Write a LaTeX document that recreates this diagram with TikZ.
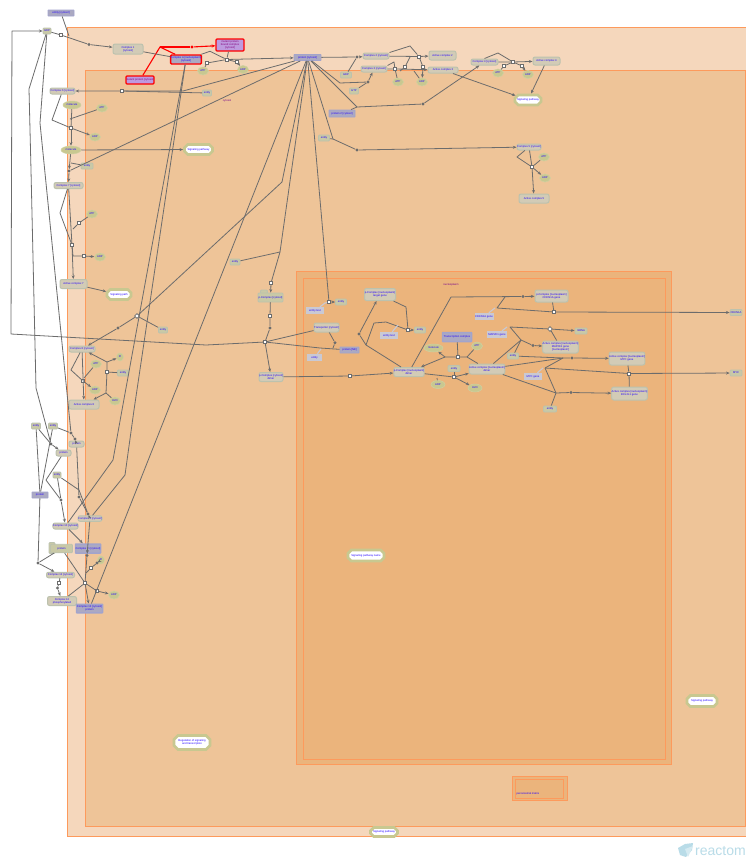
\documentclass[tikz,border=0pt]{standalone}
\usepackage{fontspec}
\setmainfont{Liberation Sans}
\usetikzlibrary{arrows.meta,shapes.misc,shapes.geometric}
\definecolor{cmpl}{HTML}{FD9A5C}
\definecolor{cmpa}{HTML}{F5D7BC}
\definecolor{cmpb}{HTML}{EEC498}
\definecolor{cmpc}{HTML}{EBB47C}
\definecolor{cxf}{HTML}{D2CBB6}
\definecolor{cxd}{HTML}{BCC2AE}
\definecolor{grf}{HTML}{C9C9A6}
\definecolor{elf}{HTML}{C8C890}
\definecolor{prf}{HTML}{ABA9C2}
\definecolor{prd}{HTML}{A2A4CC}
\definecolor{lil}{HTML}{C9C9D4}
\definecolor{pur}{HTML}{BE9ADF}
\definecolor{edge}{HTML}{6C6C6C}
\definecolor{txt}{HTML}{2200FF}
\definecolor{wm}{HTML}{B9DCE8}
\tikzset{
  wh/.style 2 args={minimum width=#1pt,minimum height=#2pt},
  lab/.style={inner sep=0pt,text=txt,align=center,font=\fontsize{2.7}{3.1}\selectfont},
  cplx/.style={lab,rectangle,rounded corners=2pt,fill=cxf,draw=cxd,line width=1pt},
  grn/.style={lab,rectangle,rounded corners=1pt,fill=grf,draw=cxd,line width=.8pt,wh={11}{6}},
  prot/.style={lab,rectangle,rounded corners=.5pt,fill=prf,draw=prd,line width=.9pt},
  tprot/.style={prot,line width=1.5pt},
  redp/.style={lab,rectangle,rounded corners=1pt,fill=prf,draw=red,line width=1.4pt},
  redq/.style={redp,fill=pur,text=purple!70!blue},
  mol/.style={lab,ellipse,fill=elf,draw=elf!85!white,line width=.5pt,wh={11}{8}},
  lilac/.style={lab,rectangle,fill=lil,draw=none},
  pway/.style={lab,chamfered rectangle,chamfered rectangle xsep=2pt,chamfered rectangle ysep=2pt,fill=white,draw=elf,line width=2.8pt},
  rxn/.style={rectangle,fill=white,draw=edge,line width=.6pt,inner sep=0pt,wh={3.4}{3.4}},
  dotn/.style={circle,fill=edge,draw=none,inner sep=0pt,wh={3.4}{3.4}},
  cn/.style={draw=edge,line width=.8pt,line join=round},
  ca/.style={cn,-{Stealth[length=3.6pt,width=3pt]}},
  rl/.style={draw=red,line width=1.1pt},
  st/.style={draw=lil,line width=1.1pt},
  cmp/.style={draw=cmpl,line width=.85pt},
  ctitle/.style={inner sep=0pt,text=purple!60!blue,font=\fontsize{2.7}{3}\selectfont}
}
\begin{document}
\begin{tikzpicture}[x=1pt,y=-1pt]
\useasboundingbox (0,0) rectangle (746,857);
\clip (0,0) rectangle (746,857);
% compartments
\fill[white] (0,0) rectangle (746,857);
\draw[cmp,fill=cmpa] (67.5,27.5) rectangle (760,836);
\draw[cmp,fill=cmpb] (85.5,70.5) rectangle (745.5,826);
\draw[cmp,fill=cmpc] (296.5,271.5) rectangle (671,764);
\draw[cmp,fill=cmpc] (303,278) rectangle (665,759);
\draw[cmp,fill=cmpc] (512,776) rectangle (567,800.5);
\draw[cmp,fill=cmpc] (515,779) rectangle (563,798);
\node[ctitle] (tcyt) at (227,101) {cytosol};
\node[ctitle] (tnuc) at (451,285) {nucleoplasm};
\node[lab] (tper) at (528,794) {peroxisomal matrix};

% top-left nodes
\node[prot,wh={26}{6}] (A1) at (61,13) {entity [cytosol]};
\node[grn,wh={8}{6}] (A2) at (47,31) {GDP};
\node[rxn] (S1) at (61,35) {};
\node[dotn] (D1) at (89,44.5) {};
\node[cplx,wh={30}{10}] (A3) at (128,49) {Complex 1\\{}[cytosol]};
\node[redp,wh={30}{9}] (R1) at (186,59.5) {Complex A [nucleoplasm]\\{}[cytosol]};
\node[redq,wh={28}{12}] (R2) at (230,45) {mutant protein\\bound complex\\{}[cytosol]};
\node[redq,wh={28}{8}] (R3) at (140,80) {mutant protein [cytosol]};
\coordinate (RJ) at (160,47);
\node[dotn,fill=red] (RD) at (192,47) {};
\node[rxn] (S2) at (226.7,59.5) {};
\node[rxn] (S3) at (207,63) {};
\node[rxn] (S4) at (237,62) {};
\node[mol] (E1) at (203,71) {ATP};
\node[mol] (E2) at (243,69.5) {ADP};
\node[prot,wh={27}{6}] (M) at (307.5,57.5) {protein [cytosol]};

% top centre
\node[dotn] (D2) at (357,57) {};
\node[cplx,wh={26}{6}] (C1) at (376,56) {Complex 2 [cytosol]};
\node[cplx,wh={26}{6}] (C2) at (374,69) {Complex 3 [cytosol]};
\node[cplx,wh={27}{9}] (C3) at (442.5,55.5) {Active complex 2};
\node[cplx,wh={30}{6}] (C4) at (443,70) {Active complex 3};
\node[rxn] (S5) at (419,56.5) {};
\node[rxn] (S6) at (395,69) {};
\node[rxn] (S7) at (405,67) {};
\node[rxn] (S8) at (423,67) {};
\node[mol] (E3) at (398,82) {ATP};
\node[mol] (E4) at (422,82) {ADP};
\node[grn] (G1) at (346,75) {GDP};
\node[grn,wh={9}{6}] (G2) at (354,91) {GTP};
\node[dotn] (D3) at (368,82) {};
\node[prot,wh={26}{7}] (P1) at (342,113.5) {protein 2 [cytosol]};
\node[grn,wh={11}{6}] (G3) at (324,138) {entity};
\node[dotn] (D4) at (357,150) {};
\node[dotn] (D5) at (423,104) {};
\node[cplx,wh={27}{6}] (C5) at (484.5,62) {Complex 4 [cytosol]};
\node[cplx,wh={27}{8}] (C6) at (546.5,61) {Active complex 4};
\node[rxn] (S9) at (513,62) {};
\node[rxn] (S10) at (504,66) {};
\node[rxn] (S11) at (522,66) {};
\node[mol] (E5) at (498,73) {ATP};
\node[mol] (E6) at (528,74.5) {ADP};
\node[pway,minimum width=26pt,minimum height=10pt] (W1) at (528,100) {Signaling pathway};
\node[cplx,wh={24}{6}] (C7) at (529,147) {Complex 5 [cytosol]};
\node[mol] (E7) at (544,157) {ATP};
\node[rxn] (S12) at (532,167) {};
\node[mol] (E8) at (545,178) {ADP};
\node[cplx,wh={30}{9}] (C8) at (534,198.5) {Active complex 5};

% left column
\node[cplx,wh={25}{6}] (C9) at (62.5,91) {Complex 6 [cytosol]};
\node[rxn] (S13) at (122,91) {};
\node[grn,wh={9}{6}] (G4) at (207,93) {entity};
\node[mol,wh={18}{8}] (E9) at (72,105) {molecule};
\node[mol] (E10) at (102,108) {ATP};
\node[rxn] (S14) at (71,128) {};
\node[mol] (E11) at (95,137) {ADP};
\node[mol,wh={20}{8}] (E12) at (71,150) {molecule};
\node[pway,minimum width=28pt,minimum height=10pt] (W2) at (198.5,149.5) {Signaling pathway};
\node[grn,wh={12}{6}] (G5) at (87,166) {entity};
\node[dotn] (D6) at (69,171) {};
\node[cplx,wh={29}{6}] (C10) at (68.5,185.5) {Complex 7 [cytosol]};
\node[mol] (E13) at (92,214) {ATP};
\node[rxn] (S15) at (79,223) {};
\node[rxn] (S16) at (72,245) {};
\node[rxn] (S17) at (84,256) {};
\node[mol] (E14) at (100,257) {ADP};
\node[cplx,wh={27}{9}] (C11) at (73.5,284) {Active complex 7};
\node[pway,minimum width=24pt,minimum height=10pt] (W3) at (119,294.5) {Signaling path};
\node[rxn,rotate=45] (S18) at (137,316) {};
\node[dotn] (D7) at (118,328) {};
\node[grn,wh={9}{6}] (G6) at (163,330) {entity};
\node[cplx,wh={26}{6}] (C12) at (82,349) {Complex 8 [cytosol]};
\node[mol,wh={7}{8}] (E15) at (120,357) {Pi};
\node[mol] (E16) at (96,364) {ATP};
\node[grn,wh={11}{6}] (G7) at (123,373) {entity};
\node[rxn] (S19) at (107,372) {};
\node[rxn] (S20) at (83,381) {};
\node[mol] (E17) at (95,390) {ADP};
\node[mol] (E18) at (115,401) {H2O};
\node[cplx,wh={30}{9}] (C13) at (84,404.5) {Active complex 8};

% lower left
\node[grn,wh={9}{6}] (G8) at (36,426) {entity};
\node[grn,wh={9}{6}] (G9) at (53,426) {entity};
\node[dotn] (D8) at (51,444) {};
\node[dotn] (D9) at (71,433) {};
\node[dotn] (D10) at (75,439) {};
\node[cplx,wh={15}{6}] (C14) at (76.5,444) {protein};
\node[cplx,wh={15}{6}] (C15) at (63.5,453) {protein};
\node[grn,wh={8}{6}] (G10) at (57,475) {entity};
\node[prot,wh={16}{6}] (P2) at (40,495) {protein};
\node[dotn] (D11) at (61,500) {};
\node[dotn] (D12) at (79,497) {};
\node[dotn] (D13) at (88,514) {};
\node[cplx,wh={24}{5.5}] (C16) at (90,518.5) {Complex 9 [cytosol]};
\node[cplx,wh={25}{6}] (C17) at (65.5,526) {Complex 10 [cytosol]};
\node[grn,wh={6}{11}] (G11) at (52,548) {};
\node[grn,wh={22}{8.5}] (G12) at (61.5,548.5) {protein};
\node[tprot,wh={25}{9}] (P3) at (88,548.5) {Complex 11 [cytosol]};
\node[mol,wh={7}{8}] (E19) at (101,560) {Pi};
\node[rxn] (S21) at (91,568) {};
\node[dotn] (D14) at (97,563) {};
\node[dotn] (D15) at (87,555.5) {};
\node[dotn] (D16) at (38,563) {};
\node[cplx,wh={28}{5.5}] (C18) at (60.5,575) {Complex 12 [cytosol]};
\node[rxn] (S22) at (59,583) {};
\node[dotn] (D17) at (57.5,588) {};
\node[cplx,wh={29}{9}] (C19) at (62,601) {Complex 12\\phosphorylated};
\node[rxn] (S23) at (85,583) {};
\node[rxn] (S24) at (97,591) {};
\node[mol] (E20) at (114,595) {ADP};
\node[tprot,wh={26}{8.5}] (P4) at (89.5,608.5) {Complex 13 [cytosol]\\protein};

% centre
\node[grn,wh={10}{6}] (G13) at (235,262) {entity};
\coordinate (BJ) at (280,252);
\coordinate (BK) at (282,182);
\node[rxn] (S25) at (271,283) {};
\node[grn,wh={7}{4}] (G14) at (264,292) {};
\node[grn,wh={25}{9}] (C20) at (270.5,297.5) {p-Complex [cytosol]};
\node[rxn] (S26) at (270,316) {};
\node[dotn] (D18) at (270,328) {};
\node[rxn] (S27) at (265,342) {};
\node[cplx,wh={24}{9}] (C21) at (271,377) {p-Complex [cytosol]\\dimer};
\node[rxn] (S28) at (350,376) {};
\node[cplx,wh={25}{9}] (C22) at (326.5,327.5) {Transporter [cytosol]};
\node[lilac,wh={18}{7}] (L1) at (315,310.5) {entity text};
\node[lilac,wh={15}{7}] (L2) at (314.5,357.5) {entity};
\node[prot,wh={19}{6}] (P5) at (349.5,350) {protein [NE]};
\node[dotn] (D19) at (335,342.7) {};
\node[rxn] (S29) at (329,302) {};
\node[grn,wh={11}{6}] (G15) at (341,302) {entity};
\node[cplx,wh={31}{12}] (C23) at (380,294.5) {p-Complex [nucleoplasm]\\target gene};
\node[rxn] (S30) at (408,330) {};
\node[grn,wh={11}{6}] (G16) at (420,330) {entity};
\node[lilac,wh={18}{7}] (L3) at (389,335.5) {entity text};
\node[dotn] (D20) at (359,334) {};
\node[cplx,wh={24}{9}] (C24) at (409,372) {p-Complex [nucleoplasm]\\dimer};

% nucleoplasm right
\node[tprot,wh={29}{9}] (P6) at (457,337) {Transcription complex};
\node[rxn] (S31) at (458,357) {};
\node[rxn] (S32) at (454,377) {};
\node[mol,wh={19}{8}] (E21) at (433.5,348) {molecule};
\node[mol] (E22) at (477,346) {ATP};
\node[grn,wh={12}{6}] (G17) at (454,368.5) {entity};
\node[mol,wh={14}{8}] (E23) at (438,384.5) {ADP};
\node[mol,wh={14}{8}] (E24) at (475,388) {H2O};
\node[cplx,wh={30}{10}] (C25) at (487,369) {Active complex [nucleoplasm]\\dimer};
\node[cplx,wh={33}{12}] (C26) at (551.5,296) {p-Complex [nucleoplasm]\\CDKN1A gene};
\node[lilac,wh={19}{7}] (L4) at (484,316.5) {CDKN1A gene};
\node[rxn] (S33) at (554,312) {};
\node[grn,wh={12}{6}] (G18) at (736,312.5) {CDKN1A};
\node[dotn] (D21) at (523,296.5) {};
\node[lilac,wh={20}{7}] (L5) at (497,334.5) {MAP2K1 gene};
\node[rxn,rotate=45] (S34) at (550,329) {};
\node[grn,wh={12}{6}] (G19) at (581,331) {mRNA};
\node[cplx,wh={33}{12}] (C27) at (560.5,347) {Active complex [nucleoplasm]\\MAP2K1 gene\\{}[nucleoplasm]};
\node[dotn] (D22) at (533,345.5) {};
\node[grn,wh={11}{6}] (G20) at (513,356) {entity};
\node[dotn] (D23) at (572,358) {};
\node[cplx,wh={30}{13}] (C28) at (627,358.5) {Active complex [nucleoplasm]\\MYC gene};
\node[rxn] (S35) at (629,373.5) {};
\node[grn,wh={12}{6}] (G21) at (736,373) {MYC};
\node[lilac,wh={18}{7}] (L6) at (533,376.5) {MYC gene};
\node[cplx,wh={31}{13}] (C29) at (629.5,393.5) {Active complex [nucleoplasm]\\BCL2L1 gene};
\node[dotn] (D24) at (571,392.5) {};
\node[grn,wh={13}{6}] (G22) at (550,409) {entity};

% free-standing pathways
\node[pway,minimum width=36pt,minimum height=11pt] (W4) at (366,555.5) {Signaling pathway name};
\node[pway,minimum width=36pt,minimum height=14pt] (W5) at (192,742.5) {Regulation of signaling\\and transcription};
\node[pway,minimum width=30pt,minimum height=11pt] (W6) at (702,701) {Signaling pathway};
\node[pway,minimum width=27pt,minimum height=9pt] (W7) at (384,832) {Signaling pathway};

% ---- connectors ----
% outer loops from A2
\draw[ca] (S27) -- (206,345) -- (11,334) -- (12,31) -- (A2);
\draw[ca] (A2) -- (29,89) -- (31,170) -- (36,388) -- (D8) -- (C15);
\draw[ca] (A2) -- (40,123) -- (D9) -- (D10) -- (C14);
\draw[cn] (A1) -- (69,36);
\draw[cn] (A2) -- (S1);
\draw[cn] (S1) -- (D1);
\draw[ca] (D1) -- (A3);
% red
\draw[rl] (R3) -- (RJ) -- (R1);
\draw[rl] (RJ) -- (RD);
\draw[rl,-{Stealth[length=3.6pt,width=3pt]}] (RD) -- (R2);
\draw[cn] (A3) -- (R1);
\draw[cn] (R1) -- (210,51.3) -- (S2);
\draw[cn] (R2) -- (S2);
\draw[ca] (S2) -- (M);
\draw[cn] (S2) -- (S3);
\draw[cn] (S3) -- (E1);
\draw[cn] (S2) -- (S4);
\draw[ca] (S4) -- (E2);
% M fan
\draw[ca] (M) -- (D2) -- (C1);
\draw[cn] (G1) -- (D2);
\draw[ca] (M) -- (340,83) -- (D3) -- (C2);
\draw[cn] (G2) -- (D3);
\draw[ca] (M) -- (357,107) -- (D5) -- (C5);
\draw[cn] (P1) -- (357,107);
\draw[ca] (M) -- (333,139) -- (D4) -- (C7);
\draw[cn] (G3) -- (333,139);
\draw[ca] (M) -- (183,91) -- (S13) -- (C9);
\draw[cn] (G4) -- (S13);
\draw[ca] (M) -- (D6) -- (C10);
\draw[ca] (M) -- (BK) -- (S18) -- (D7) -- (C12);
\draw[cn] (G6) -- (S18);
\draw[ca] (M) -- (BJ) -- (S25) -- (C20);
\draw[cn] (G13) -- (BJ);
\draw[ca] (M) -- (S29) -- (G15);
\draw[cn] (M) -- (P4);
% top centre reactions
\draw[ca] (C1) -- (S5) -- (C3);
\draw[cn] (C1.north east) -- (410,46) -- (S5);
\draw[cn] (S7) -- (410,57);
\draw[cn] (S7) -- (400,71);
\draw[ca] (C2) -- (S6) -- (C4);
\draw[cn] (C2.north east) -- (394,62) -- (S6);
\draw[cn] (S6) -- (E3);
\draw[cn] (S5) -- (S8);
\draw[ca] (S8) -- (E4);
\draw[cn] (414,71) -- (E4);
\draw[ca] (C4) -- (W1);
\draw[ca] (C6) -- (W1);
\draw[ca] (C5) -- (S9) -- (C6);
\draw[cn] (C5.north) -- (498,53) -- (S9);
\draw[cn] (S9) -- (S10);
\draw[cn] (S10) -- (E5);
\draw[cn] (S9) -- (S11);
\draw[ca] (S11) -- (E6);
\draw[cn] (C7) -- (517,157) -- (S12);
\draw[ca] (C7) -- (S12) -- (C8);
\draw[cn] (E7) -- (S12);
\draw[ca] (S12) -- (E8);
% left column
\draw[cn] (C9) -- (52,120) -- (S14);
\draw[cn] (E9) -- (S14);
\draw[cn] (E10) -- (70,119);
\draw[ca] (S14) -- (E11);
\draw[ca] (S14) -- (E12);
\draw[ca] (E12) -- (W2);
\draw[ca] (E12) -- (D6);
\draw[cn] (G5) -- (71,163);
\draw[cn] (C10) -- (60,213) -- (S16);
\draw[cn] (C10) -- (S16);
\draw[cn] (E13) -- (S15);
\draw[cn] (S15) -- (73,229);
\draw[cn] (S16) -- (73,256) -- (S17);
\draw[ca] (S17) -- (E14);
\draw[ca] (S16) -- (C11);
\draw[ca] (C11) -- (W3);
\draw[cn] (C12) -- (71,370) -- (S20);
\draw[ca] (C12) -- (C13);
\draw[cn] (E16) -- (84,378);
\draw[ca] (S20) -- (E17);
\draw[ca] (107,362) -- (C12);
\draw[ca] (107,362) -- (E15);
\draw[cn] (107,362) -- (S19) -- (106,393);
\draw[cn] (G7) -- (S19);
\draw[cn] (106,393) -- (E18);
\draw[ca] (106,393) -- (C13);
% lower left
\draw[cn] (G8) -- (D8);
\draw[cn] (G8) -- (P2);
\draw[cn] (G9) -- (P2);
\draw[cn] (G9) -- (D9);
\draw[cn] (P2) -- (D16);
\draw[ca] (D16) -- (C18);
\draw[cn] (G12) -- (D16);
\draw[cn] (C14) -- (D12) -- (D13);
\draw[cn] (G10) -- (79,490) -- (D13);
\draw[ca] (D13) -- (C16);
\draw[cn] (C15) -- (46,480) -- (D11);
\draw[ca] (G10) -- (D11) -- (C17);
\draw[ca] (C17) -- (P3);
\draw[ca] (C16) -- (D15);
\draw[cn] (P3) -- (D15);
\draw[cn] (D15) -- (S23);
\draw[cn] (86,573) -- (S21) -- (D14);
\draw[ca] (D14) -- (E19);
\draw[cn] (G12) -- (S23);
\draw[cn] (C19) -- (S23);
\draw[ca] (S23) -- (P4);
\draw[cn] (S23) -- (S24);
\draw[ca] (S24) -- (E20);
\draw[cn] (C18) -- (S22);
\draw[ca] (S22) -- (D17) -- (C19);
\draw[cn] (C17) -- (113,460) -- (122,410) -- (R1);
\draw[cn] (C16) -- (125,475) -- (134,410) -- (R1);
% centre
\draw[cn] (C20) -- (S26) -- (D18) -- (S27);
\draw[ca] (S27) -- (C21);
\draw[cn] (C22) -- (S27);
\draw[cn] (S27) -- (320,348) -- (P5);
\draw[st] (L2) -- (321,349);
\draw[ca] (C21) -- (S28) -- (C24);
\draw[cn] (C22) -- (D19) -- (333,348);
\draw[st] (L1) -- (325,303) -- (S29);
\draw[cn] (C23) -- (406,307) -- (S30);
\draw[ca] (S30) -- (G16);
\draw[cn] (C24) -- (366,345) -- (D20);
\draw[ca] (D20) -- (C23);
\draw[cn] (366,345) -- (374,323) -- (386,322) -- (S30);
\draw[st] (L3) -- (398,325);
\draw[cn] (C24) -- (451,297) -- (D21);
\draw[ca] (D21) -- (C26);
\draw[cn] (505,297) -- (497,308) -- (S33);
\draw[st] (L4) -- (495,308);
\draw[cn] (C26) -- (S33);
\draw[ca] (S33) -- (G18);
\draw[ca] (C24) -- (S32) -- (C25);
\draw[cn] (E23) -- (437,378);
\draw[cn] (G17) -- (S32);
\draw[ca] (S32) -- (E24);
\draw[cn] (P6) -- (S31);
\draw[cn] (E22) -- (467,357);
\draw[cn] (C25) -- (467,357) -- (S31) -- (445,357);
\draw[ca] (445,357) -- (C24);
\draw[ca] (445,357) -- (E21);
\draw[cn] (C25) -- (521,340) -- (D22);
\draw[ca] (D22) -- (C27);
\draw[cn] (521,340) -- (510,327) -- (S34);
\draw[st] (L5) -- (507,327);
\draw[ca] (S34) -- (G19);
\draw[cn] (C27) -- (S34);
\draw[cn] (G20) -- (521,340);
\draw[cn] (C25) -- (563,358);
\draw[cn] (G20) -- (563,358);
\draw[ca] (563,358) -- (D23) -- (C28);
\draw[cn] (545,368) -- (563,358);
\draw[cn] (545,368) -- (S35);
\draw[st] (L6) -- (543,368);
\draw[ca] (S35) -- (G21);
\draw[cn] (545,368) -- (556,393);
\draw[cn] (C25) -- (556,393);
\draw[ca] (556,393) -- (D24) -- (C29);
\draw[cn] (556,393) -- (G22);
\draw[cn] (C28) -- (S35);
\draw[cn] (C29) -- (S35);

% watermark
\fill[wm] (678,848) -- (685,844) -- (693,843) -- (692,850) -- (686,857) -- (680,855) -- cycle;
\fill[wm!60!white] (685,849) -- (693,846) -- (688,857) -- cycle;
\node[anchor=west,inner sep=0pt,text=wm,font=\fontsize{14}{14}\selectfont] (wmk) at (695,851) {reactom};
\end{tikzpicture}
\end{document}
